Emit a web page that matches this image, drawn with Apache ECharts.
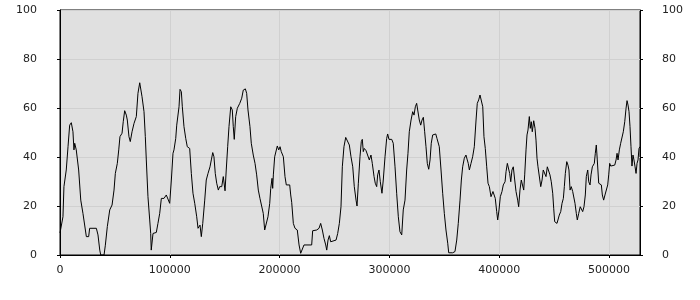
<!DOCTYPE html>
<html>
<head>
<meta charset="utf-8">
<script src="https://cdn.jsdelivr.net/npm/echarts@6/dist/echarts.min.js"></script>
<style>html,body{margin:0;padding:0;background:#fff;}#c{width:700px;height:300px;}</style>
</head>
<body>
<div id="c"></div>
<script>
var xValues = [0,1200,2700,3600,5700,7300,8800,10300,11800,12700,13400,14800,17000,18900,20900,22500,24000,26100,27000,33100,34600,36200,37100,40100,41300,43100,45300,47400,49200,50400,52200,53500,54600,56500,57600,58900,60400,61300,62800,64000,65600,67400,69500,71000,72600,73500,74700,76500,77700,78600,80100,81700,82600,83100,84700,87700,89200,90800,92300,94700,96800,98400,99900,101400,102900,103800,105400,106300,107500,108400,109300,110500,111400,112900,114500,115900,118100,119600,121100,122700,124500,125700,127500,128700,130000,131800,133200,134800,136600,137800,139100,140200,141400,142700,144200,145400,147300,148700,150300,151400,152700,153900,155500,156900,157800,158700,160000,161500,163700,165500,166900,168800,170000,171200,173000,174200,176000,177600,179100,180600,182100,183700,185100,186400,188200,189400,191000,191900,193100,193700,194300,195500,196700,197900,199200,200400,201500,203400,204900,206100,207900,209200,210100,211000,212500,214000,216100,217700,219200,220700,222200,229200,230100,233800,235900,237400,238900,240400,242000,242900,244100,245300,246500,248300,251400,252900,254400,255900,257100,258600,260200,262000,263500,265000,266600,268000,269600,270500,271700,273200,274400,275300,276200,277100,278700,280200,281700,283200,284400,286000,287100,288400,289300,290500,291700,293200,294400,296000,297500,298400,299600,302100,303500,305100,306600,308100,309600,311200,312600,314200,315700,316900,318100,319700,321200,322400,323600,324800,326000,327200,328500,329700,330900,332100,333300,334500,335800,337000,338100,339400,340900,342200,343300,344500,345400,347000,348500,350000,351500,353100,354000,355400,357600,359700,361300,362700,364300,365500,366700,368200,369700,370900,371800,372800,374300,375800,377300,378900,380000,381300,382500,383700,385000,386100,387300,388600,389800,391000,392500,393400,394300,395200,396400,397700,398600,399800,401000,402500,403700,405300,406200,407400,408300,409500,410500,411600,412800,414100,415300,416800,417700,418900,420100,421400,422300,423200,424400,425300,426200,427400,428300,429200,430100,431400,432600,433500,434400,435300,436500,437800,439000,440100,441400,442600,443800,445100,446200,447400,448700,449600,450500,451700,452600,453500,454700,456000,457200,458400,459300,460200,461500,462600,463500,464500,465600,466900,468100,469000,470200,471100,472400,473800,474800,476000,477200,478400,479300,480600,481500,482700,483600,484800,485700,486600,487500,488400,489300,490600,492100,493000,493900,495100,496300,497500,498800,499700,500600,501500,503300,505200,506400,507300,508200,509400,510600,511800,513000,514300,515500,516400,517300,518200,519100,520000,520900,521800,522700,523700,524600,525500,526400,527300,528200];
var yValues = [9,9.5,15.6,27.9,34.7,44.2,53,54,50.3,42.9,45.6,42.9,34.7,22.4,17,16.3,7.5,7.5,10.9,10.9,8.2,2,0,0,4,11.6,18.4,20.4,26.5,33.3,37.4,42.9,48.3,49.7,54.4,58.9,57.1,55.1,48.3,46.3,50.3,53.7,56.5,66,70.3,70.7,64.6,58.5,48.3,38.8,23.8,14.3,8.8,2,8.8,9.2,12.9,17,23.1,23.1,24.5,25.2,21.1,30.6,41.5,42.9,47.6,53,52.4,60.5,67.6,66.7,60.5,52.4,47.6,44.2,43.5,33.3,25.2,21.1,15.6,10.9,12.2,7.5,12.9,22.4,30.6,33.3,36,38.8,41.8,40.1,33.3,29.3,26.5,27.9,27.9,32,26.2,34.7,44.2,52.4,60.5,59.2,52.4,47.2,56.5,59.9,61.9,64,67.3,67.8,66,59.2,52.4,45.6,40.8,37.4,32.7,26.5,23.1,22.4,17,10.2,10.9,15.6,21.1,27.2,31.3,27.2,32.7,40.1,40.8,44.5,42.9,44.2,42.2,40.1,32,28.6,29.3,28.6,24.5,21.5,12.9,10.9,10.2,4.1,0.7,1.4,4.1,4.1,9.9,10.2,10.9,12.9,10.2,6.8,4.1,2,6.1,7.9,5.4,6.1,6.1,8.8,12.9,19.7,36,44.2,48,48,44.9,40.1,36,27.9,22.4,20,29.3,40.1,46.3,47.2,42.2,43.5,42.6,43.1,38.8,40.8,37.4,32,29.3,27.9,32.7,34.7,29.9,25.2,30.6,40.1,47.6,49.4,47.2,47.2,45.6,36,25.2,15.6,9.5,8.2,18.4,22.4,34.7,41.5,50.3,55.1,58.5,57.1,60.5,61.9,61.2,55.1,53,55.1,56.2,50.3,44.2,37.4,35,38.8,45.6,49,48.3,49.4,47.6,48.3,44.2,34.7,25.2,17,10.2,4.8,0.9,0.7,0.9,1.4,6.1,12.9,22.4,30.6,36,39.5,40.8,38.8,37.4,34.7,37.4,40.1,44.2,55.1,61.9,63.3,65.3,66,60.5,48.3,43.5,36,29.3,27.9,23.8,23.8,25.9,26.5,23.1,17.7,14.3,18.4,23.8,25.9,28.6,29.9,34,37.4,38.1,33.3,29.9,34.7,36,30.6,25.9,22.4,19.7,26.5,30.6,29.9,26.5,32.7,42.9,49,51,56.5,51.7,54.4,50.3,54.8,51.7,46.9,39.5,36,36,27.9,30.6,34.7,34.7,32,36,35.4,32.7,29.9,25.2,19.1,13.6,14.3,12.9,12.2,16.3,17.7,21.1,23.1,27.9,33.3,38.1,36.7,34.7,26.5,27.9,25.9,25.9,21.1,17,14.3,17,19.7,19.1,17.7,19.7,24.5,32,34.7,29.9,28.6,32.7,36,35.4,37.4,41.5,44.9,38.8,29.3,29.3,28.6,24.5,22.4,24.5,24.5,28.6,32.7,37.4,36.3,36.7,36.7,38.8,41.5,38.8,42.9,45.6,46.3,50.3,54.4,59.9,63,61.2,58.5,52.4,44.2,36.3,40.8,38.8,36,33.3,37.4,38.8,43.5,44.2];
var xTicks = [0,100000,200000,300000,400000,500000];
var yTicks = [0,20,40,60,80,100];

var seriesData = xValues.map(function(x,i){return [x, yValues[i]];});
var font = {fontFamily:'DejaVu Sans', fontSize:11, color:'#222'};
var chart = echarts.init(document.getElementById('c'), null, {renderer:'canvas'});
chart.setOption({
  animation:false,
  grid:{left:60,right:60,top:10,bottom:45,show:true,backgroundColor:'#e0e0e0',borderColor:'#000',borderWidth:1},
  xAxis:{type:'value',min:0,max:528200,interval:100000,
    axisLine:{show:true,lineStyle:{color:'#000'}},
    axisTick:{show:true,length:3,lineStyle:{color:'#000'}},
    axisLabel:Object.assign({margin:10,showMaxLabel:false,formatter:function(v){return xTicks.indexOf(v)>=0?String(v):'';}},font),
    splitLine:{show:true,lineStyle:{color:'#d0d0d0',width:1}}},
  yAxis:[
    {type:'value',min:0,max:100,interval:20,position:'left',
      axisLine:{show:true,lineStyle:{color:'#000'}},
      axisTick:{show:true,length:3,lineStyle:{color:'#000'}},
      axisLabel:Object.assign({margin:23},font),
      splitLine:{show:true,lineStyle:{color:'#d0d0d0',width:1}}},
    {type:'value',min:0,max:100,interval:20,position:'right',
      axisLine:{show:true,lineStyle:{color:'#000'}},
      axisTick:{show:true,length:3,lineStyle:{color:'#000'}},
      axisLabel:Object.assign({margin:22},font),
      splitLine:{show:false}}
  ],
  series:[{type:'line',data:seriesData,showSymbol:false,symbol:'none',
    lineStyle:{color:'#000',width:1},yAxisIndex:0}]
});
</script>
</body>
</html>
